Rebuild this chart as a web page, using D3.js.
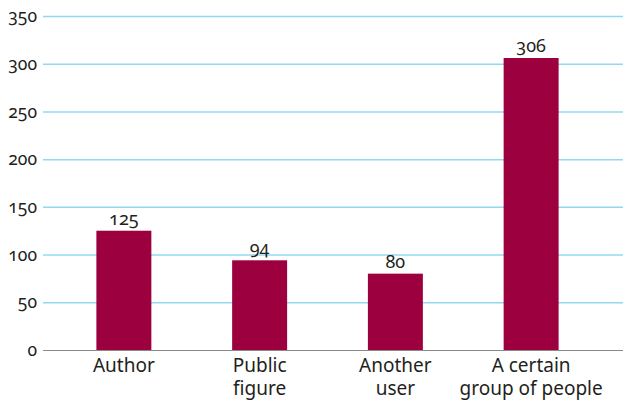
<!DOCTYPE html>
<html>
<head>
<meta charset="utf-8">
<script src="https://cdn.jsdelivr.net/npm/d3@7"></script>
<style>
  html, body { margin: 0; padding: 0; background: #fff; }
  svg text { font-family: "Noto Sans", "Open Sans", sans-serif; fill: #231f20; font-variant-numeric: oldstyle-nums; font-feature-settings: "onum" 1; }
</style>
</head>
<body>
<svg id="chart" width="623" height="400"></svg>
<script>
// Who the content targets
const categories = [["Author"], ["Public", "figure"], ["Another", "user"], ["A certain", "group of people"]];
const values = [125, 94, 80, 306];
const yTicks = [0, 50, 100, 150, 200, 250, 300, 350];

const gridLeft = 43, gridRight = 623;
const plotTop = 16, plotBottom = 350;

const svg = d3.select("#chart");

const y = d3.scaleLinear().domain([0, 350]).range([plotBottom, plotTop]);
const x = d3.scaleBand()
  .domain(d3.range(categories.length))
  .range([56, 599])
  .paddingInner(0.595)
  .paddingOuter(0.2975);

// Horizontal grid + tick labels
const yAxis = d3.axisLeft(y)
  .tickValues(yTicks)
  .tickSize(-(gridRight - gridLeft))
  .tickPadding(6)
  .tickFormat(d3.format("d"));

const gy = svg.append("g")
  .attr("transform", `translate(${gridLeft},0)`)
  .call(yAxis);
gy.select(".domain").remove();
gy.selectAll(".tick line")
  .attr("stroke", d => d === 0 ? "#8a8a8a" : "#93d8f2")
  .attr("stroke-width", d => d === 0 ? 1.2 : 1.5);
gy.selectAll(".tick text")
  .attr("x", -6)
  .style("font-size", "17.5px");

// Bars
svg.append("g").selectAll("rect")
  .data(values)
  .join("rect")
  .attr("x", (d, i) => x(i))
  .attr("width", x.bandwidth())
  .attr("y", d => y(d))
  .attr("height", d => y(0) - y(d))
  .attr("fill", "#9c003f");

// Value labels
svg.append("g").selectAll("text")
  .data(values)
  .join("text")
  .attr("x", (d, i) => x(i) + x.bandwidth() / 2)
  .attr("y", d => y(d) - 6)
  .attr("text-anchor", "middle")
  .style("font-size", "18px")
  .text(d => d);

// Category labels (wrapped lines)
const xl = svg.append("g").selectAll("text")
  .data(categories)
  .join("text")
  .attr("text-anchor", "middle")
  .attr("transform", (d, i) => `translate(${x(i) + x.bandwidth() / 2},${plotBottom + 22})`)
  .style("font-size", "19px");
xl.selectAll("tspan")
  .data(d => d)
  .join("tspan")
  .attr("x", 0)
  .attr("dy", (d, i) => i === 0 ? 0 : 23)
  .text(d => d);
</script>
</body>
</html>
